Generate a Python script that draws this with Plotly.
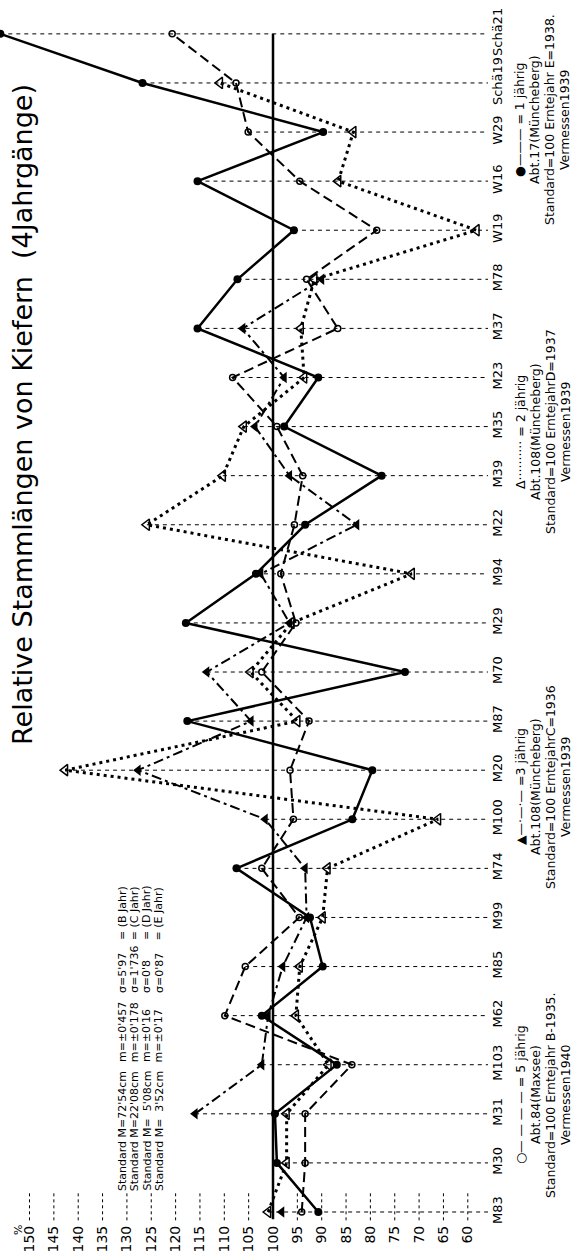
import plotly.graph_objects as go

# ---------------- data ----------------
categories = ["M83", "M30", "M31", "M103", "M62", "M85", "M99", "M74", "M100", "M20",
              "M87", "M70", "M29", "M94", "M22", "M39", "M35", "M23", "M37", "M78",
              "W19", "W16", "W29", "Schä19", "Schä21"]

# 1 jährig (Abt.17, Erntejahr E=1938) - solid, filled circles
one_year = [90.7, 99.2, 99.6, 86.9, 102.3, 89.8, 92.4, 107.5, 83.7, 79.6,
            117.6, 72.9, 117.9, 103.5, 93.4, 77.7, 97.7, 90.7, 115.5, 107.3,
            95.7, 115.5, 89.7, 126.8, 156.0]
# 2 jährig (Abt.108, Erntejahr D=1937) - dotted, open triangles
two_year = [101.0, 97.2, 97.2, 88.6, 95.3, 94.5, 89.8, 88.8, 66.1, 142.7,
            95.0, 104.6, 96.2, 71.5, 125.9, 110.3, 106.0, 93.6, 94.3, 91.5,
            58.2, 86.6, 83.5, 110.9, None]
# 3 jährig (Abt.108, Erntejahr C=1936) - dash-dot, filled triangles
three_year = [98.2, None, 116.0, 102.3, 101.0, 98.0, 93.1, 93.4, 101.6, 127.7,
              104.5, 113.6, 96.6, 102.5, 82.8, 96.6, 103.7, 97.7, 106.2, 90.0,
              None, None, None, None, None]
# 5 jährig (Abt.84 Maxsee, Erntejahr B=1935) - dashed, open circles
five_year = [94.1, 93.4, 93.4, 83.8, 109.9, 105.7, 94.6, 102.3, 95.8, 96.5,
             92.6, 102.3, 95.3, 98.4, 95.6, 93.9, 99.2, 108.3, 86.7, 93.1,
             78.7, 94.5, 105.1, 107.6, 120.7]

value_ticks = list(range(60, 151, 5))
reference_value = 100

title_text = "Relative Stammlängen von Kiefern  (4Jahrgänge)"
# standard table: rows x columns
standard_rows = [
    ["Standard M=72'54cm", "m=±0'457", "σ=5'97", "= (B Jahr)"],
    ["Standard M=22'08cm", "m=±0'178", "σ=1'736", "= (C Jahr)"],
    ["Standard M=\u00a0\u00a05'08cm", "m=±0'16", "σ=0'8", "= (D Jahr)"],
    ["Standard M=\u00a0\u00a03'52cm", "m=±0'17", "σ=0'87", "= (E Jahr)"],
]
legend_blocks = [
    (["○— — — — = 5 jährig", "Abt.84(Maxsee)", "Standard=100 Erntejahr B-1935.", "Vermessen1940"], 1095),
    (["▲—·—·— =3 jährig", "Abt.108(Müncheberg)", "Standard=100 ErntejahrC=1936", "Vermessen1939"], 787),
    (["Δ·········· = 2 jährig", "Abt.108(Müncheberg)", "Standard=100 ErntejahrD=1937", "Vermessen1939"], 432),
    (["●——— = 1 jährig", "Abt.17(Müncheberg)", "Standard=100 Erntejahr E=1938.", "Vermessen1939"], 120),
]

# ---------------- layout geometry ----------------
FIG_W, FIG_H = 575, 1253
PLOT_W, PLOT_H = 488, 1222
X_RANGE = [156.06, 55.85]
Y_RANGE = [-0.204, 24.69]
FONT = "DejaVu Sans"


def pxx(x):
    return x / PLOT_W


def pxy(y):
    return 1 - y / PLOT_H


fig = go.Figure()

# per-category dotted guide lines from leftmost point to right edge
for i, c in enumerate(categories):
    vals = [s[i] for s in (one_year, two_year, three_year, five_year) if s[i] is not None]
    fig.add_shape(type="line", xref="x", yref="y", x0=max(vals), x1=X_RANGE[1],
                  y0=i, y1=i, line=dict(color="black", width=1, dash="4px,4px"), layer="below")

# reference line at 100
fig.add_shape(type="line", xref="x", yref="y", x0=reference_value, x1=reference_value,
              y0=-0.15, y1=len(categories) - 1, line=dict(color="black", width=2.5))

# dotted tick marks above value labels
for v in value_ticks:
    if v == reference_value:
        continue
    fig.add_shape(type="line", xref="x", yref="y", x0=v, x1=v, y0=-0.17, y1=0.39,
                  line=dict(color="black", width=1, dash="3px,3px"))

series = [
    (five_year, dict(color="black", width=2, dash="10px,5px"),
     dict(symbol="circle-open", size=6, color="black", line=dict(width=1.5, color="black"))),
    (three_year, dict(color="black", width=2, dash="10px,4px,3px,4px"),
     dict(symbol="triangle-left", size=10, color="black")),
    (two_year, dict(color="black", width=3, dash="3px,4px"),
     dict(symbol="triangle-left-open", size=10, color="black", line=dict(width=1.5, color="black"))),
    (one_year, dict(color="black", width=2.5),
     dict(symbol="circle", size=8, color="black")),
]
for vals, line, marker in series:
    fig.add_trace(go.Scatter(x=vals, y=categories, mode="lines+markers",
                             line=line, marker=marker, connectgaps=False,
                             showlegend=False, cliponaxis=True))

annotations = []
# title
annotations.append(dict(text=title_text, xref="paper", yref="paper", x=pxx(22), y=pxy(415),
                        xanchor="center", yanchor="middle", textangle=-90, showarrow=False,
                        font=dict(family=FONT, size=27, color="black")))
# standard table
col_bottoms = [1193, 1064, 995, 942]
for j, row in enumerate(standard_rows):
    for k, t in enumerate(row):
        annotations.append(dict(text=t, xref="paper", yref="paper", x=pxx(122 + 12.3 * j),
                                y=pxy(col_bottoms[k]), xanchor="center", yanchor="bottom",
                                textangle=-90, showarrow=False,
                                font=dict(family=FONT, size=11, color="black")))
# legend blocks
line_x = [520, 535, 550, 565]
for lines, yc in legend_blocks:
    for j, t in enumerate(lines):
        annotations.append(dict(text=t, xref="paper", yref="paper", x=pxx(line_x[j]), y=pxy(yc),
                                xanchor="center", yanchor="middle", textangle=-90, showarrow=False,
                                font=dict(family=FONT, size=12.5, color="black")))
# percent sign near 150
annotations.append(dict(text="%", xref="paper", yref="paper", x=pxx(18), y=pxy(1230),
                        xanchor="center", yanchor="middle", textangle=-90, showarrow=False,
                        font=dict(family=FONT, size=11, color="black")))

fig.update_layout(
    width=FIG_W, height=FIG_H,
    margin=dict(l=0, r=FIG_W - PLOT_W, t=0, b=FIG_H - PLOT_H, pad=0),
    paper_bgcolor="white", plot_bgcolor="white",
    annotations=annotations,
    xaxis=dict(range=X_RANGE, tickvals=value_ticks, ticktext=[str(v) for v in value_ticks],
               tickangle=-90, showgrid=False, zeroline=False, showline=False, ticks="",
               tickfont=dict(family=FONT, size=14, color="black")),
    yaxis=dict(type="category", categoryorder="array", categoryarray=categories,
               range=Y_RANGE, side="right", tickangle=-90, showgrid=False, zeroline=False,
               showline=False, ticks="", tickfont=dict(family=FONT, size=13, color="black")),
)

fig.write_html("out.html", config={"displayModeBar": False},
               post_script="document.body.style.margin='0';")
